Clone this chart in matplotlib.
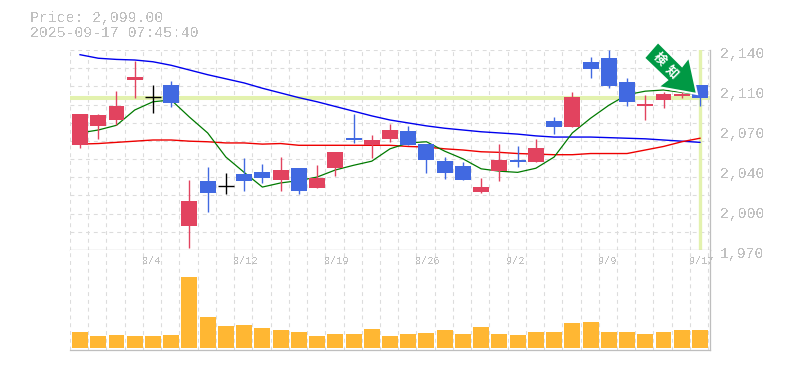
import matplotlib
matplotlib.use("Agg")
import matplotlib.pyplot as plt
from matplotlib.patches import Polygon

dates = ["8/4", "8/12", "8/19", "8/26", "9/2", "9/9", "9/17"]
date_idx = [4, 9, 14, 19, 24, 29, 34]
price_ticks = [2140, 2106, 2072, 2038, 2004, 1970]
price_labels = ["2,140", "2,110", "2,070", "2,040", "2,000", "1,970"]

opens = [2059, 2075, 2080.5, 2114.5, 2100, 2110, 1990.5, 2028.5, 2024.5, 2034.5, 2036, 2029.5,
         2040, 2022.5, 2040, 2065, 2059, 2064, 2071, 2060, 2045.5, 2041, 2019, 2037,
         2046.5, 2045, 2079.5, 2074.5, 2130, 2133, 2113, 2092, 2097.5, 2101, 2110]
closes = [2086, 2085, 2092, 2117, 2100, 2095, 2012, 2018.5, 2024.5, 2028.5, 2031, 2038,
          2020, 2031, 2053, 2063.5, 2063.5, 2072, 2059, 2046.5, 2035.5, 2029.5, 2023.5, 2046.5,
          2045, 2056.5, 2074.5, 2100, 2124, 2109, 2096, 2094, 2102.5, 2103, 2099]
highs = [2086, 2086, 2105, 2131, 2110, 2114, 2029.5, 2040.5, 2035.5, 2048, 2043, 2049,
         2040, 2042, 2053, 2085.5, 2068, 2077, 2075.5, 2060, 2049, 2045, 2031, 2060,
         2058.5, 2064, 2083, 2104, 2134, 2140, 2116, 2102, 2104, 2104, 2110]
lows = [2057, 2064, 2076, 2099, 2086.5, 2091.5, 1972, 2002, 2017.5, 2020, 2027, 2020,
        2017.5, 2022.5, 2033, 2061, 2048, 2062, 2059, 2035.5, 2030, 2029.5, 2018.5, 2028.5,
        2040.5, 2045, 2068.5, 2074.5, 2116, 2107.5, 2092, 2080.5, 2091, 2099, 2092]
volume = [16, 12, 13, 12, 12, 13, 71, 31, 22, 23, 20, 18,
          16, 12, 14, 14, 19, 12, 14, 15, 18, 14, 21, 14,
          13, 16, 16, 25, 26, 16, 16, 14, 16, 18, 18]
ma_short = [2069.5, 2072, 2076, 2089, 2096, 2097.5, 2083, 2069.5, 2049, 2036, 2023.5, 2027,
            2029, 2032, 2038, 2042, 2045.5, 2056, 2061, 2062, 2054, 2047.5, 2039, 2037,
            2036, 2039.5, 2049, 2069.5, 2082, 2093, 2102, 2105, 2106, 2104, 2102]
ma_mid = [2060, 2060.5, 2061.5, 2062.5, 2063.5, 2063.5, 2062.5, 2062, 2061, 2061, 2060, 2060.5,
          2059, 2059, 2059, 2059, 2059, 2059, 2058, 2057.5, 2056, 2055, 2053.5, 2053,
          2052, 2051.5, 2051, 2051, 2052, 2052, 2052, 2055, 2058, 2062, 2065]
ma_long = [2136, 2133, 2132, 2131.5, 2130, 2127, 2123, 2119, 2115.5, 2112, 2107.5, 2103.5,
           2099.5, 2096, 2092, 2088, 2084, 2080.5, 2078, 2075.5, 2073.5, 2072, 2070.5, 2069.5,
           2068.5, 2067, 2066, 2066, 2066, 2065.5, 2065, 2064.5, 2063.5, 2062.5, 2061.5]
last_price = 2099
info_lines = ["Price: 2,099.00", "2025-09-17 07:45:40"]

RED = "#E2435F"
BLUE = "#4169E1"
GRID = "#dcdcdc"
TXT = "#c0c0c0"
mono = "Liberation Mono"
W, H = 785, 370

fig = plt.figure(figsize=(7.85, 3.7), dpi=100)
ax = fig.add_axes([70 / W, 1 - 250 / H, 640 / W, 200 / H])
vx = fig.add_axes([70 / W, 1 - 350 / H, 640 / W, 100 / H])
n = len(closes)

for a in (ax, vx):
    a.set_xlim(-0.55, n - 0.45)
    a.set_xticks([i - 0.55 for i in range(n + 1)])
    a.tick_params(length=0, labelbottom=False, labelleft=False)
    a.grid(axis="x", color=GRID, linewidth=0.8, linestyle=(0, (3.5, 3.5)))
    a.set_axisbelow(True)
    for s in ("top", "left"):
        a.spines[s].set_visible(False)
    for s in ("right", "bottom"):
        a.spines[s].set_color("#bebebe")
        a.spines[s].set_linewidth(0.9)

# price panel
ax.set_ylim(1970, 2140)
ax.set_yticks([1970 + 170 * i / 11 for i in range(12)])
ax.grid(axis="y", color=GRID, linewidth=0.8, linestyle=(0, (3.5, 3.5)))
ax.axhline(last_price, color="#E3F2AE", linewidth=2.9, zorder=1)
ax.axvline(n - 1, color="#E3F2AE", linewidth=2.4, zorder=1)

x = list(range(n))
ax.plot(x, ma_long, color="#0000ee", linewidth=1.0, zorder=2)
ax.plot(x, ma_mid, color="#ee0000", linewidth=1.0, zorder=2)
ax.plot(x, ma_short, color="#007a00", linewidth=0.9, zorder=2)

for i in range(n):
    o, c = opens[i], closes[i]
    col = RED if c > o else BLUE if c < o else "black"
    ax.vlines(i, lows[i], highs[i], color=col, linewidth=1.0, zorder=3)
    if c == o:
        ax.hlines(c, i - 0.44, i + 0.44, color=col, linewidth=1.0, zorder=3)
    else:
        ax.bar(i, abs(c - o), bottom=min(o, c), width=0.875, color=col, zorder=3)

for t, lab in zip(price_ticks, price_labels):
    ax.text(1.016, (t - 1970) / 170 - 0.02, lab, transform=ax.transAxes, family=mono, fontsize=10.7,
            color=TXT, va="center", ha="left", antialiased=False)

# green arrow marker, pixel positions of the figure
pts = [(658, 42), (682, 66), (689, 57), (697, 94), (658, 87), (667, 80), (644, 58)]
outline = [(px / W, 1 - py / H) for px, py in pts]
fig.add_artist(Polygon(outline, closed=True, transform=fig.transFigure, facecolor="#009944",
                       edgecolor="white", linewidth=1.5, zorder=6, joinstyle="miter"))
for ch, cx, cy in [("検", 659, 59), ("知", 672, 72)]:
    fig.text(cx / W, 1 - cy / H, ch, family=["Noto Sans CJK JP", "DejaVu Sans"], fontsize=9,
             fontweight="bold", color="white", rotation=-45, ha="center", va="center", zorder=7)

# volume panel
vx.set_ylim(-2, 98)
vx.set_yticks([])
vx.bar(x, volume, width=0.875, color="#FFB733", zorder=3)
# date labels start a little left of their candle
for i, lab in zip(date_idx, dates):
    vx.text(i - 0.6, 87.5, lab, family=mono, fontsize=7.3, color=TXT, ha="left", va="center",
            zorder=5, antialiased=False)

fig.text(30 / W, 1 - 18 / H, info_lines[0], family=mono, fontsize=10.7, color=TXT, va="center",
         antialiased=False)
fig.text(30 / W, 1 - 33 / H, info_lines[1], family=mono, fontsize=10.7, color=TXT, va="center",
         antialiased=False)

fig.savefig("out.png", dpi=100)
plt.close(fig)
